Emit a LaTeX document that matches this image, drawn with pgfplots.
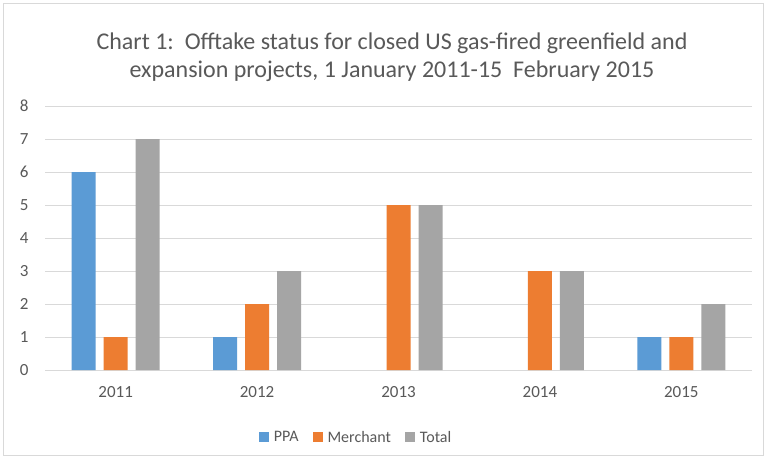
\documentclass[border=0pt]{standalone}
\usepackage{pgfplots}
\pgfplotsset{compat=1.18}
\usepackage{fontspec}
\setmainfont{Carlito}
\definecolor{cblue}{HTML}{5B9BD5}
\definecolor{corange}{HTML}{ED7D31}
\definecolor{cgray}{HTML}{A5A5A5}
\definecolor{ctext}{HTML}{595959}
\definecolor{cgrid}{HTML}{D9D9D9}
\begin{document}
\begin{tikzpicture}[x=1pt,y=1pt]
\useasboundingbox (0,0) rectangle (766,461);
\fill[white] (0,0) rectangle (766,461);
\draw[cgrid] (3,6) rectangle (763,458);
\begin{axis}[
  at={(45pt,91pt)}, anchor=south west,
  scale only axis, width=707pt, height=264pt,
  ybar=8pt, bar width=24pt,
  xmin=-0.5, xmax=4.5, ymin=0, ymax=8,
  xtick={0,1,2,3,4}, xticklabels={2011,2012,2013,2014,2015},
  ytick={0,1,...,8},
  ymajorgrids, major grid style={cgrid, line width=0.8pt},
  axis line style={draw=none},
  major tick length=0pt,
  tick label style={font=\fontsize{17}{20}\selectfont, text=ctext},
  /pgf/number format/assume math mode=true,
  yticklabel style={xshift=-13pt},
  xticklabel style={yshift=-13pt},
  legend style={at={(0.44,-0.215)}, anchor=north, draw=none, legend columns=3,
    font=\fontsize{16}{19}\selectfont, text=ctext,
    /tikz/every odd column/.append style={column sep=3pt},
    /tikz/every even column/.append style={column sep=12pt}},
  legend image code/.code={\fill[#1] (0pt,-5pt) rectangle (10pt,5pt);},
]
\addplot[fill=cblue, draw=none] coordinates {(0,6) (1,1) (4,1)};
\addplot[fill=corange, draw=none] coordinates {(0,1) (1,2) (2,5) (3,3) (4,1)};
\addplot[fill=cgray, draw=none] coordinates {(0,7) (1,3) (2,5) (3,3) (4,2)};
\legend{PPA, Merchant, Total}
\end{axis}
\node[align=center, text=ctext, font=\fontsize{24}{28}\selectfont] at (392,404) {Chart 1:\ \ Offtake status for closed US gas-fired greenfield and\\expansion projects, 1 January 2011-15\ \ February 2015};
\end{tikzpicture}
\end{document}
